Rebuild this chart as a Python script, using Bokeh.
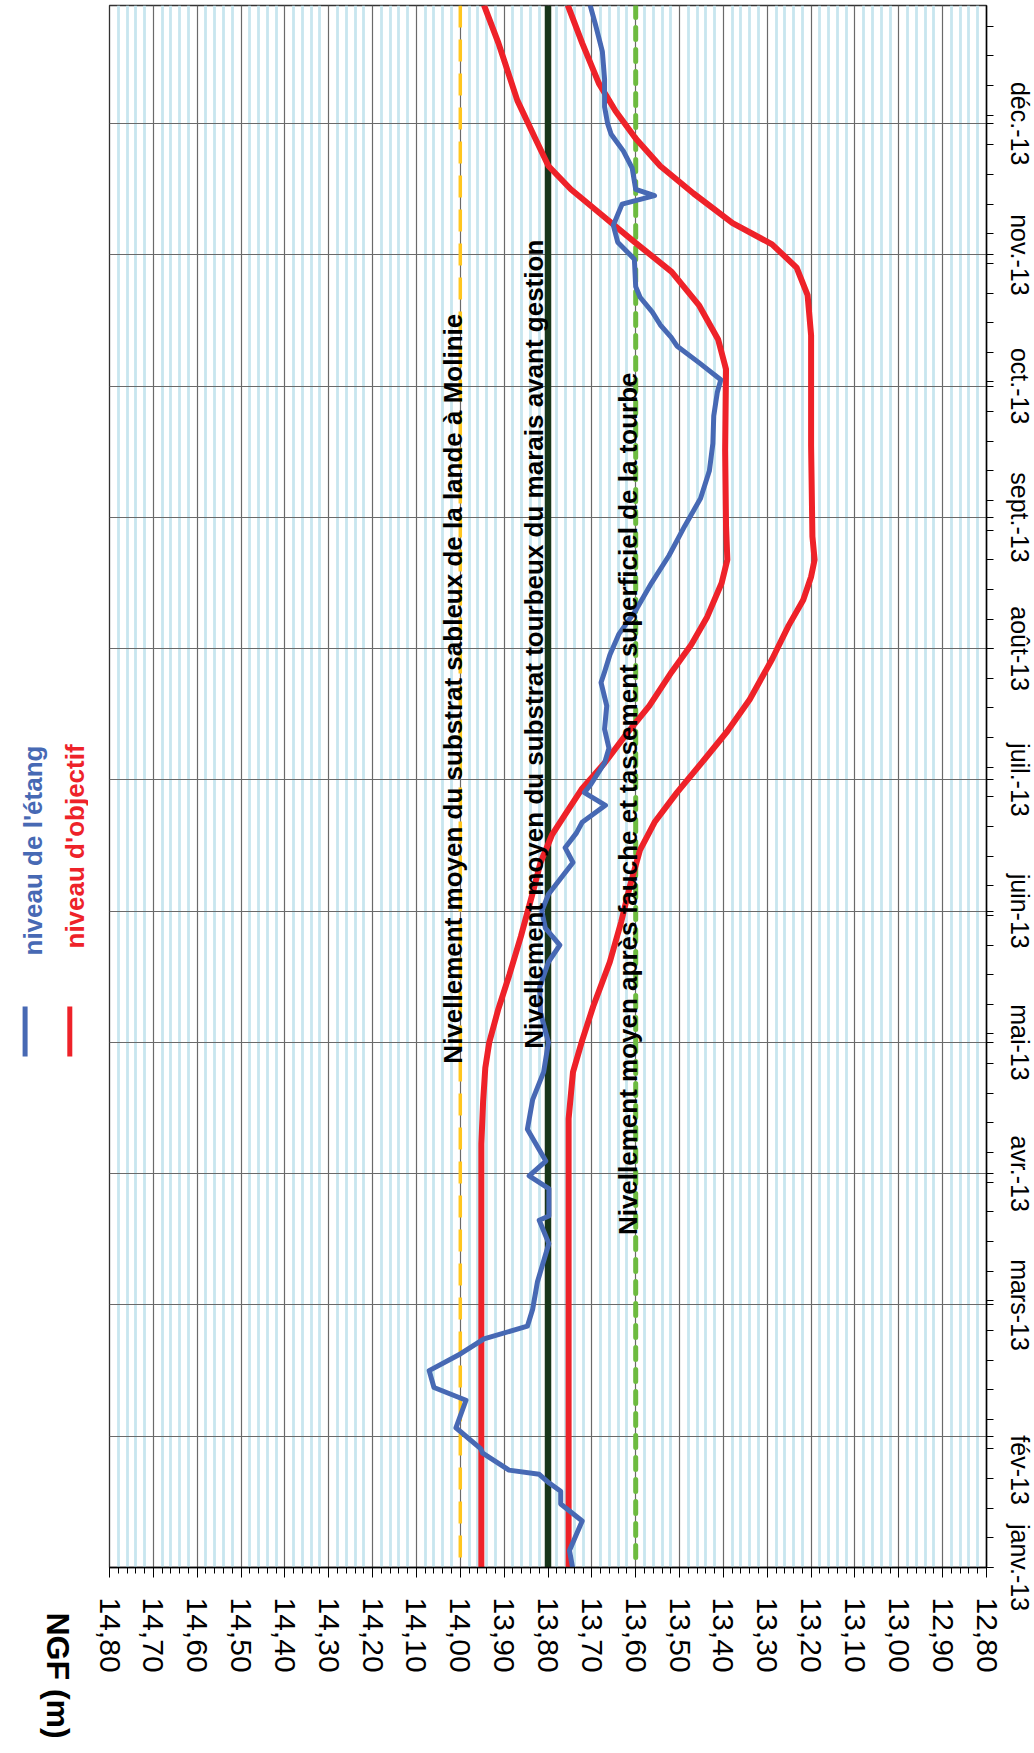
import math
from bokeh.plotting import figure
from bokeh.models import Range1d, FixedTicker, CustomJSTickFormatter, Span
from bokeh.layouts import row
from bokeh.core.properties import value
from bokeh.embed import file_html
from bokeh.resources import INLINE

FONT = "Liberation Sans"
BLUE = "#4769B4"
RED = "#EE2229"

# ---- axis categories / ticks ----
mois = ["janv.-13", "fév-13", "mars-13", "avr.-13", "mai-13", "juin-13",
        "juil.-13", "août-13", "sept.-13", "oct.-13", "nov.-13", "déc.-13"]
jours_mois = [0, 31, 62, 93, 124, 155, 186, 217, 248, 279, 310, 341]          # gridlines
jours_etiquettes = [0, 23, 62, 93, 124, 155, 186, 217, 248, 279, 310, 341]    # label centres
jours_semaines = list(range(0, 365, 7))
ngf_majeurs = [round(12.80 + 0.1 * i, 2) for i in range(21)]
ngf_mineurs = [round(12.80 + 0.02 * i, 2) for i in range(101) if i % 5 != 0]
titre_axe = "NGF (m)"

# ---- reference levels ----
niveau_sableux = 14.00
niveau_tourbeux = 13.80
niveau_tassement = 13.60

# ---- niveau de l'étang (days since 1 Jan 2013, NGF m) ----
etang_jour = [0, 4, 11, 15, 18, 20, 22, 23, 27, 28, 33, 39.5, 42.5, 46.5, 50.5, 54, 57, 61,
              67.5, 76.5, 82, 83, 89.5, 92.5, 96, 103.5, 110.5, 117, 124, 131, 137, 143, 147,
              151, 155, 159, 162.5, 166.5, 170, 173.5, 176, 180, 183, 185, 190, 193.5, 198,
              203.5, 209, 211.5, 215.5, 220.5, 226, 232.5, 239, 246, 252.5, 259, 265.5, 272,
              277.5, 280.5, 284.5, 288.5, 290.5, 293.5, 296.5, 300, 302.5, 309, 313, 317, 322,
              324, 325.5, 330.5, 334.5, 338.5, 341, 345, 351.5, 358, 364.5, 369]
etang_ngf = [13.744, 13.751, 13.722, 13.771, 13.771, 13.798, 13.820, 13.889, 13.949, 13.953,
             14.010, 13.987, 14.060, 14.071, 13.999, 13.946, 13.847, 13.835, 13.824, 13.798,
             13.820, 13.798, 13.798, 13.843, 13.805, 13.847, 13.835, 13.81, 13.799, 13.817,
             13.819, 13.799, 13.773, 13.806, 13.814, 13.799, 13.773, 13.743, 13.761, 13.735,
             13.722, 13.669, 13.717, 13.702, 13.671, 13.661, 13.671, 13.666, 13.679, 13.671,
             13.659, 13.638, 13.600, 13.564, 13.524, 13.488, 13.452, 13.432, 13.424, 13.422,
             13.414, 13.406, 13.455, 13.506, 13.519, 13.544, 13.562, 13.590, 13.600, 13.603,
             13.641, 13.651, 13.631, 13.557, 13.600, 13.608, 13.628, 13.656, 13.664, 13.671,
             13.671, 13.676, 13.692, 13.704]

# ---- niveau d'objectif (two curves) ----
obj_haut_jour = [0, 100, 110, 118, 124, 132, 140, 149, 158.5, 166.5, 173, 178, 184, 190, 197,
                 203.5, 211.5, 218, 224.5, 232.5, 238, 246, 264, 283, 290, 298, 306, 313.5,
                 320, 325.5, 331, 337.5, 346.5, 360, 369]
obj_haut_ngf = [13.952, 13.952, 13.948, 13.943, 13.934, 13.913, 13.888, 13.862, 13.837, 13.817,
                13.791, 13.760, 13.722, 13.671, 13.620, 13.569, 13.518, 13.473, 13.437, 13.404,
                13.391, 13.394, 13.396, 13.394, 13.412, 13.455, 13.518, 13.608, 13.684, 13.748,
                13.799, 13.829, 13.870, 13.913, 13.946]
obj_bas_jour = [0, 106, 117, 124.5, 132.5, 143, 152.5, 161, 169.5, 176, 183, 191, 197.5, 205,
                214.5, 222.5, 228.5, 234, 238, 243.5, 265, 291, 300.5, 307, 312.5, 317.5, 324.5,
                331, 337.5, 344, 350.5, 360, 369]
obj_bas_ngf = [13.753, 13.753, 13.743, 13.722, 13.697, 13.659, 13.633, 13.613, 13.590, 13.557,
               13.506, 13.442, 13.391, 13.340, 13.289, 13.251, 13.218, 13.200, 13.192, 13.197,
               13.200, 13.200, 13.208, 13.233, 13.289, 13.379, 13.468, 13.544, 13.600, 13.646,
               13.684, 13.722, 13.755]

# ---- annotations ----
textes = ["Nivellement moyen du substrat sableux de la lande à Molinie",
          "Nivellement moyen du substrat tourbeux du marais avant gestion",
          "Nivellement moyen après fauche et tassement superficiel de la tourbe"]
textes_ngf = [14.017, 13.832, 13.618]
textes_jour = [119, 122.5, 78.5]

legende = ["niveau de l'étang", "niveau d'objectif"]
legende_couleurs = [BLUE, RED]

FRAME_W, FRAME_H = 877, 1562
B_TOP, B_BOTTOM = 5, 181
H = B_TOP + FRAME_H + B_BOTTOM
LW = 88

p = figure(frame_width=FRAME_W, frame_height=FRAME_H,
           x_range=Range1d(14.80, 12.80), y_range=Range1d(0, 368.9),
           y_axis_location="right", toolbar_location=None, output_backend="svg",
           min_border_left=21, min_border_right=20, min_border_top=B_TOP,
           min_border_bottom=B_BOTTOM, title=None)
p.outline_line_color = "#333333"
p.outline_line_width = 1.3
p.background_fill_color = "white"
p.border_fill_color = "white"

xa = p.xaxis[0]
xa.ticker = FixedTicker(ticks=ngf_majeurs, minor_ticks=ngf_mineurs)
xa.formatter = CustomJSTickFormatter(code="return tick.toFixed(2).replace('.', ',');")
xa.major_label_orientation = "vertical"
xa.major_label_text_font = FONT
xa.major_label_text_font_size = "30px"
xa.major_label_text_color = "black"
xa.major_tick_out = 10
xa.major_tick_in = 0
xa.minor_tick_out = 6
xa.minor_tick_in = 0
xa.major_label_standoff = 20
xa.axis_line_color = "black"
xa.axis_line_width = 1.5
xa.major_tick_line_color = "black"
xa.minor_tick_line_color = "black"

ya = p.yaxis[0]
ya.ticker = FixedTicker(ticks=jours_etiquettes, minor_ticks=jours_semaines + jours_mois)
ya.formatter = CustomJSTickFormatter(args=dict(t=jours_etiquettes, l=mois),
                                     code="const i = t.indexOf(tick); return i >= 0 ? l[i] : '';")
ya.major_label_orientation = "vertical"
ya.major_label_text_font = FONT
ya.major_label_text_font_size = "25px"
ya.major_label_text_color = "black"
ya.major_tick_out = 7
ya.major_tick_in = 0
ya.minor_tick_out = 7
ya.minor_tick_in = 0
ya.major_label_standoff = 12
ya.axis_line_color = "black"
ya.axis_line_width = 1.5
ya.major_tick_line_color = None
ya.minor_tick_line_color = "black"

p.xgrid.grid_line_color = "#6a6a6a"
p.xgrid.grid_line_width = 1.2
p.xgrid.minor_grid_line_color = "#c8e6ef"
p.xgrid.minor_grid_line_width = 2.8
p.ygrid.ticker = FixedTicker(ticks=jours_mois)
p.ygrid.grid_line_color = "#6a6a6a"
p.ygrid.grid_line_width = 1.2
p.ygrid.minor_grid_line_color = None

p.add_layout(Span(location=niveau_sableux, dimension="height", line_color="#FFC61E",
                  line_width=3.5, line_dash="22 12", level="underlay"))
p.add_layout(Span(location=niveau_tourbeux, dimension="height", line_color="#18351A",
                  line_width=6.5, level="underlay"))
p.add_layout(Span(location=niveau_tassement, dimension="height", line_color="#6DBB3F",
                  line_width=5, line_dash="12 10", line_cap="round", level="underlay"))

p.line(x=obj_haut_ngf, y=obj_haut_jour, line_color=RED, line_width=6, line_join="round")
p.line(x=obj_bas_ngf, y=obj_bas_jour, line_color=RED, line_width=6, line_join="round")
p.line(x=etang_ngf, y=etang_jour, line_color=BLUE, line_width=5, line_join="round")

p.text(x=textes_ngf, y=textes_jour, text=textes, angle=math.pi / 2,
       text_align="left", text_baseline="alphabetic", text_font=value(FONT),
       text_font_style="bold", text_font_size="26px", text_color="black")

# ---- left strip: legend + axis title (pixel coordinates of the strip) ----
lf = figure(width=LW, height=H, x_range=Range1d(0, LW), y_range=Range1d(0, FRAME_H),
            x_axis_location="below", y_axis_location=None, toolbar_location=None,
            output_backend="svg", min_border_left=0, min_border_right=0,
            min_border_top=B_TOP, min_border_bottom=B_BOTTOM, title=None)
lf.outline_line_color = None
lf.grid.visible = False

# axis title "NGF (m)" drawn as the single tick label of the strip's own bottom axis
ta = lf.xaxis[0]
ta.ticker = FixedTicker(ticks=[57])
ta.formatter = CustomJSTickFormatter(args=dict(titre=titre_axe), code="return titre;")
ta.major_label_orientation = "vertical"
ta.major_label_text_font = FONT
ta.major_label_text_font_size = "32px"
ta.major_label_text_font_style = "bold"
ta.major_label_text_color = "black"
ta.major_label_standoff = 45
ta.major_tick_out = 0
ta.major_tick_in = 0
ta.major_tick_line_color = None
ta.minor_tick_line_color = None
ta.axis_line_color = None

lf.segment(x0=[24.6, 69.3], y0=[511, 511], x1=[24.6, 69.3], y1=[561, 561],
           line_color=legende_couleurs, line_width=5)
lf.text(x=[32, 74.5], y=[612, 619], text=legende, angle=math.pi / 2,
        text_align="left", text_baseline="alphabetic", text_font=value(FONT),
        text_font_style="bold", text_font_size="26px", text_color=legende_couleurs)

layout = row(lf, p)
open("out.html", "w").write(file_html(layout, INLINE))
